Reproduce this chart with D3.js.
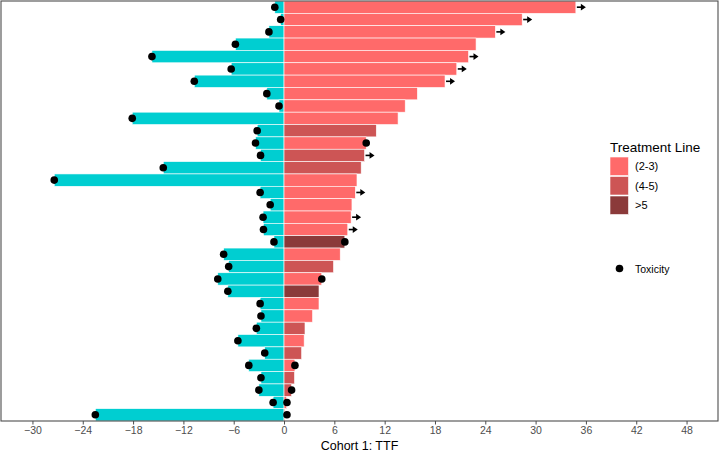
<!DOCTYPE html>
<html>
<head>
<meta charset="utf-8">
<script src="https://cdn.jsdelivr.net/npm/d3@7"></script>
<style>
  html, body { margin: 0; padding: 0; background: #fff; }
  svg { display: block; font-family: "Liberation Sans", Arial, Helvetica, sans-serif; }
</style>
</head>
<body>
<svg id="chart" width="720" height="452"></svg>
<script>
// ---- data (top to bottom) ----
const patients = d3.range(1, 35).map(i => "P" + String(i).padStart(2, "0"));
const leftValues = [-1.1, -0.4, -1.8, -5.8, -15.75, -6.3, -10.7, -2.05, -0.6, -18.1,
  -3.2, -3.4, -2.8, -14.4, -27.4, -2.85, -1.65, -2.5, -2.45, -1.2,
  -7.2, -6.6, -7.9, -6.7, -2.85, -2.75, -3.3, -5.5, -2.3, -4.2,
  -2.75, -3.0, -1.3, -22.5];
const rightValues = [34.8, 28.4, 25.2, 22.9, 22.0, 20.6, 19.2, 15.9, 14.45, 13.6,
  11.0, 9.8, 9.6, 9.2, 8.7, 8.5, 8.1, 8.0, 7.6, 7.25,
  6.7, 5.9, 4.5, 4.17, 4.17, 3.4, 2.5, 2.4, 2.1, 1.3,
  1.25, 0.9, 0.3, 0.1];
const treatmentLine = ["(2-3)", "(2-3)", "(2-3)", "(2-3)", "(2-3)", "(2-3)", "(2-3)", "(2-3)", "(2-3)", "(2-3)",
  "(4-5)", "(2-3)", "(4-5)", "(4-5)", "(2-3)", "(2-3)", "(2-3)", "(2-3)", "(2-3)", ">5",
  "(2-3)", "(4-5)", "(2-3)", ">5", "(2-3)", "(2-3)", "(4-5)", "(2-3)", "(4-5)", "(2-3)",
  "(4-5)", "(4-5)", "(2-3)", "(2-3)"];
const ongoing = [1, 1, 1, 0, 1, 1, 1, 0, 0, 0,
  0, 0, 1, 0, 0, 1, 0, 1, 1, 0,
  0, 0, 0, 0, 0, 0, 0, 0, 0, 0,
  0, 0, 0, 0];
const toxicityLeft = d3.range(34).map(() => 1);
const toxicityRight = [0, 0, 0, 0, 0, 0, 0, 0, 0, 0,
  0, 1, 0, 0, 0, 0, 0, 0, 0, 1,
  0, 0, 1, 0, 0, 0, 0, 0, 0, 1,
  0, 1, 1, 1];
const toxicityRightPos = [0, 0, 0, 0, 0, 0, 0, 0, 0, 0,
  0, 9.8, 0, 0, 0, 0, 0, 0, 0, 7.25,
  0, 0, 4.5, 0, 0, 0, 0, 0, 0, 1.3,
  0, 0.9, 0.35, 0.35];
const lineLevels = ["(2-3)", "(4-5)", ">5"];
const lineColors = ["#FF6A6A", "#CD5555", "#8B3A3A"];
const xTicks = [-30, -24, -18, -12, -6, 0, 6, 12, 18, 24, 30, 36, 42, 48];
const leftColor = "#00CED1";

// ---- layout ----
const svg = d3.select("#chart");
const panel = { left: 1, right: 718, top: 1, bottom: 421 };

const x = d3.scaleLinear().domain([-33.75, 51.75]).range([panel.left, panel.right]);
const y = d3.scaleBand().domain(patients).range([panel.top, panel.bottom]).padding(0);
const color = d3.scaleOrdinal().domain(lineLevels).range(lineColors);

const rows = patients.map((p, i) => ({
  id: p, left: leftValues[i], right: rightValues[i], line: treatmentLine[i],
  ongoing: ongoing[i], toxL: toxicityLeft[i], toxR: toxicityRight[i], toxRPos: toxicityRightPos[i]
}));

const g = svg.append("g");

// left bars
g.selectAll("rect.left").data(rows).join("rect")
  .attr("class", "left")
  .attr("x", d => x(d.left))
  .attr("y", d => y(d.id))
  .attr("width", d => x(0) - x(d.left))
  .attr("height", y.bandwidth())
  .attr("fill", leftColor)
  .attr("stroke", "#fff").attr("stroke-width", 0.6);

// right bars
g.selectAll("rect.right").data(rows).join("rect")
  .attr("class", "right")
  .attr("x", x(0))
  .attr("y", d => y(d.id))
  .attr("width", d => x(d.right) - x(0))
  .attr("height", y.bandwidth())
  .attr("fill", d => color(d.line))
  .attr("stroke", "#fff").attr("stroke-width", 0.6);

// ongoing arrows
const arrows = g.selectAll("g.arrow").data(rows.filter(d => d.ongoing)).join("g")
  .attr("class", "arrow")
  .attr("transform", d => `translate(${x(d.right) + 1},${y(d.id) + y.bandwidth() / 2})`);
arrows.append("line").attr("x1", 0).attr("x2", 5).attr("y1", 0).attr("y2", 0)
  .attr("stroke", "#000").attr("stroke-width", 1.6);
arrows.append("path").attr("d", "M4,-3.4L9,0L4,3.4Z").attr("fill", "#000");

// toxicity dots
g.selectAll("circle.toxL").data(rows.filter(d => d.toxL)).join("circle")
  .attr("class", "toxL")
  .attr("cx", d => x(d.left))
  .attr("cy", d => y(d.id) + y.bandwidth() / 2)
  .attr("r", 3.8).attr("fill", "#000");
g.selectAll("circle.toxR").data(rows.filter(d => d.toxR)).join("circle")
  .attr("class", "toxR")
  .attr("cx", d => x(d.toxRPos))
  .attr("cy", d => y(d.id) + y.bandwidth() / 2)
  .attr("r", 3.8).attr("fill", "#000");

// panel border
svg.append("rect")
  .attr("x", panel.left).attr("y", panel.top)
  .attr("width", panel.right - panel.left).attr("height", panel.bottom - panel.top)
  .attr("fill", "none").attr("stroke", "#4D4D4D").attr("stroke-width", 1.1);

// x axis
const xAxis = d3.axisBottom(x).tickValues(xTicks).tickSize(3.5).tickPadding(2);
const ax = svg.append("g").attr("transform", `translate(0,${panel.bottom})`).call(xAxis);
ax.select(".domain").remove();
ax.selectAll(".tick line").attr("stroke", "#4D4D4D").attr("stroke-width", 1);
ax.selectAll(".tick text").attr("fill", "#4D4D4D").attr("font-size", 10.5)
  .attr("font-family", "Liberation Sans, Arial, sans-serif");

svg.append("text")
  .attr("x", (panel.left + panel.right) / 2).attr("y", 449.5)
  .attr("text-anchor", "middle").attr("font-size", 12.5).attr("fill", "#000")
  .text("Cohort 1: TTF");

// legend
const leg = svg.append("g").attr("transform", "translate(610,0)");
leg.append("text").attr("x", 0).attr("y", 152).attr("font-size", 13.5).attr("fill", "#000")
  .text("Treatment Line");
const keys = leg.selectAll("g.key").data(lineLevels).join("g")
  .attr("class", "key")
  .attr("transform", (d, i) => `translate(0,${157 + i * 19.5})`);
keys.append("rect").attr("width", 18.5).attr("height", 18.5)
  .attr("fill", d => color(d)).attr("stroke", "#fff").attr("stroke-width", 0.6);
keys.append("text").attr("x", 25).attr("y", 9.5).attr("dy", "0.35em")
  .attr("font-size", 11).attr("fill", "#000").text(d => d);

leg.append("circle").attr("cx", 9.5).attr("cy", 268.5).attr("r", 3.8).attr("fill", "#000");
leg.append("text").attr("x", 25).attr("y", 269).attr("dy", "0.35em")
  .attr("font-size", 10.5).attr("fill", "#000").text("Toxicity");
</script>
</body>
</html>
